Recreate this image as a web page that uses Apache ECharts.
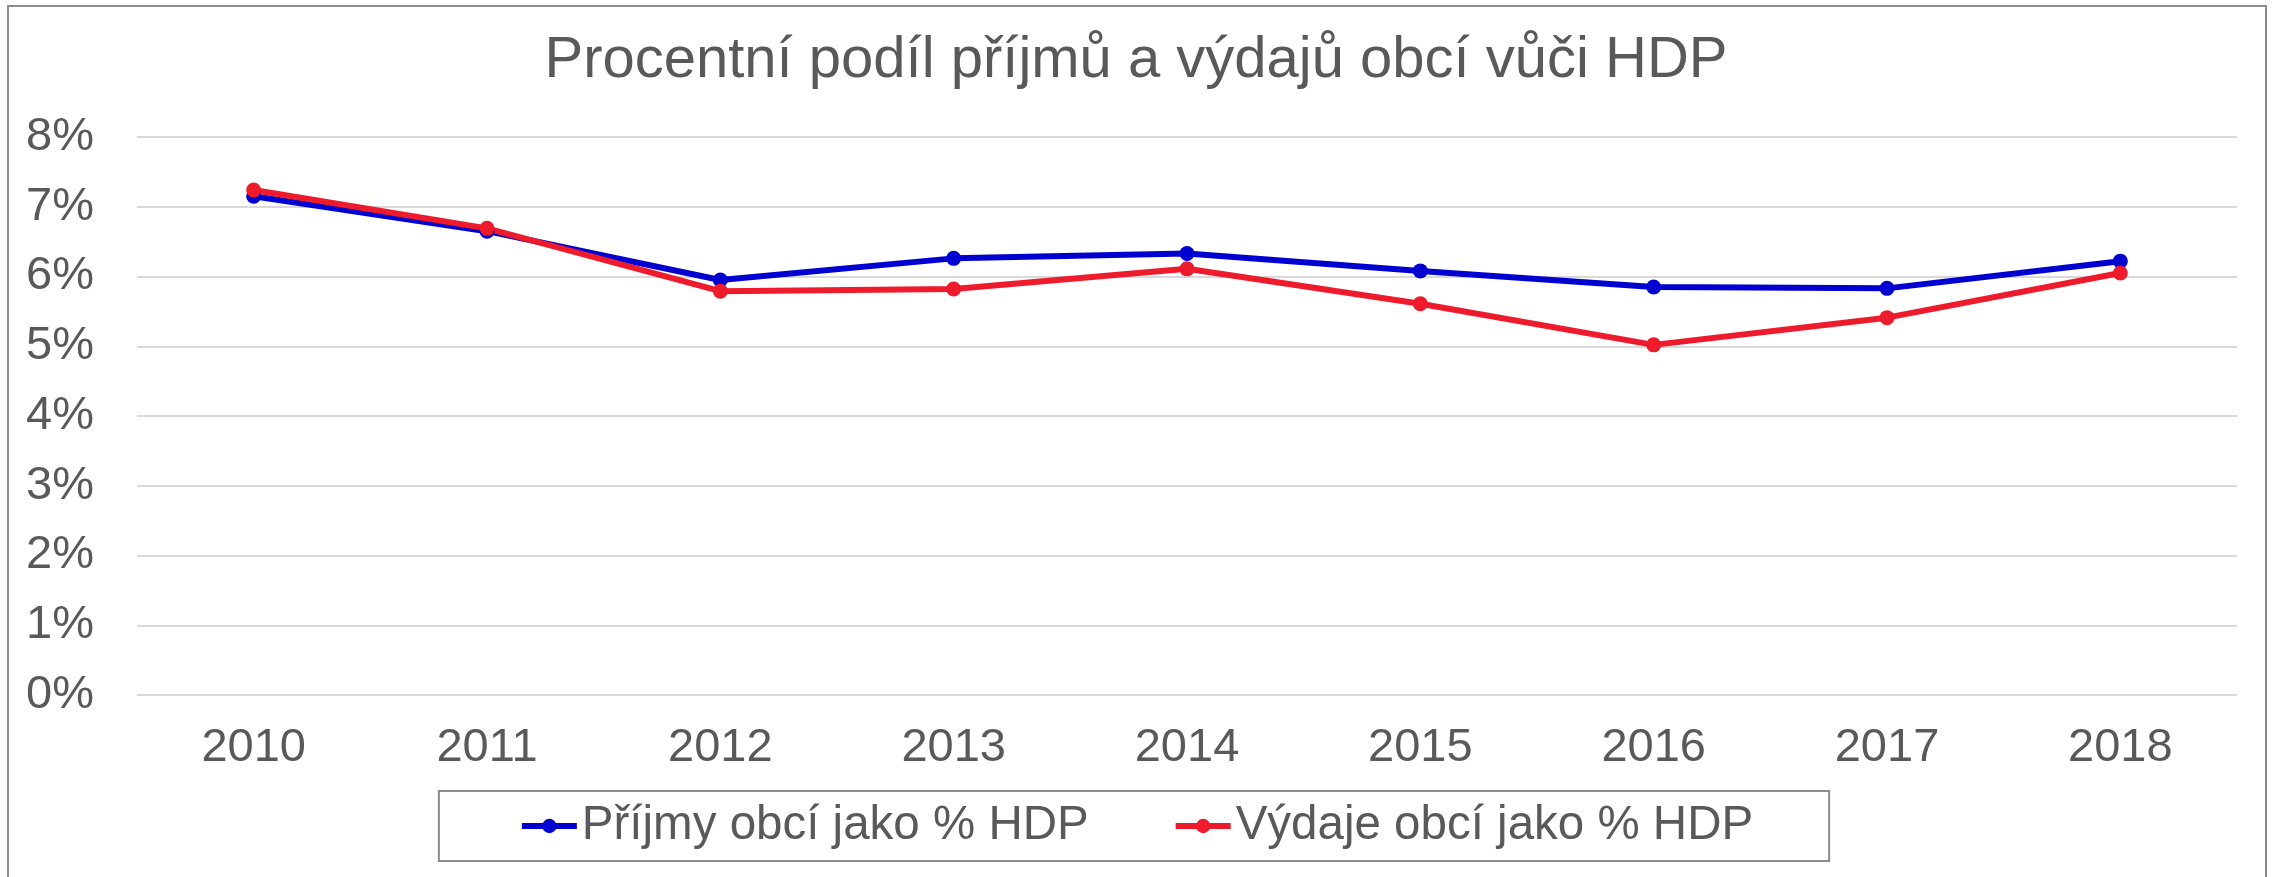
<!DOCTYPE html>
<html>
<head>
<meta charset="utf-8">
<script src="https://cdn.jsdelivr.net/npm/echarts@6/dist/echarts.min.js"></script>
<style>
  html, body { margin: 0; padding: 0; background: #fff; }
  #chart { width: 2272px; height: 877px; }
</style>
</head>
<body>
<div id="chart"></div>
<script>
// data
const years = ['2010', '2011', '2012', '2013', '2014', '2015', '2016', '2017', '2018']
const prijmy = [7.15, 6.65, 5.95, 6.26, 6.33, 6.08, 5.85, 5.83, 6.22]
const vydaje = [7.24, 6.69, 5.79, 5.82, 6.11, 5.61, 5.02, 5.41, 6.05]
const seriesNames = ['Příjmy obcí jako % HDP', 'Výdaje obcí jako % HDP']

const textColor = '#595959'
const font = 'Liberation Sans, Arial, sans-serif'

const chart = echarts.init(document.getElementById('chart'))

const option = {
  animation: false,
  title: {
    text: 'Procentní podíl příjmů a výdajů obcí vůči HDP',
    left: 'center',
    top: 27,
    textStyle: {
      color: textColor,
      fontFamily: font,
      fontSize: 58,
      fontWeight: 'normal'
    }
  },
  graphic: [
    {
      type: 'rect',
      silent: true,
      z: -1,
      shape: { x: 8, y: 6, width: 2258, height: 900 },
      style: { fill: 'none', stroke: '#8c8c8c', lineWidth: 2 }
    }
  ],
  grid: {
    left: 137,
    right: 35,
    top: 137,
    bottom: 182
  },
  legend: {
    data: seriesNames,
    bottom: 16,
    left: 'center',
    padding: [11, 76, 11, 80],
    borderColor: '#8c8c8c',
    borderWidth: 2,
    itemWidth: 55,
    itemHeight: 18,
    itemGap: 84,
    lineStyle: { width: 6 },
    textStyle: {
      color: textColor,
      fontFamily: font,
      fontSize: 47.5
    }
  },
  xAxis: {
    type: 'category',
    data: years,
    axisLine: { show: false },
    axisTick: { show: false },
    axisLabel: {
      color: textColor,
      fontFamily: font,
      fontSize: 47,
      margin: 30
    }
  },
  yAxis: {
    type: 'value',
    min: 0,
    max: 8,
    interval: 1,
    axisLabel: {
      formatter: '{value}%',
      color: textColor,
      fontFamily: font,
      fontSize: 47,
      margin: 43
    },
    splitLine: {
      lineStyle: { color: '#d9d9d9', width: 2 }
    }
  },
  series: [
    {
      name: seriesNames[0],
      type: 'line',
      data: prijmy,
      symbol: 'circle',
      symbolSize: 15,
      itemStyle: { color: '#0000d0' },
      lineStyle: { color: '#0000d0', width: 6 }
    },
    {
      name: seriesNames[1],
      type: 'line',
      data: vydaje,
      symbol: 'circle',
      symbolSize: 15,
      itemStyle: { color: '#ee1b2d' },
      lineStyle: { color: '#ee1b2d', width: 6 }
    }
  ]
}

chart.setOption(option)
</script>
</body>
</html>
